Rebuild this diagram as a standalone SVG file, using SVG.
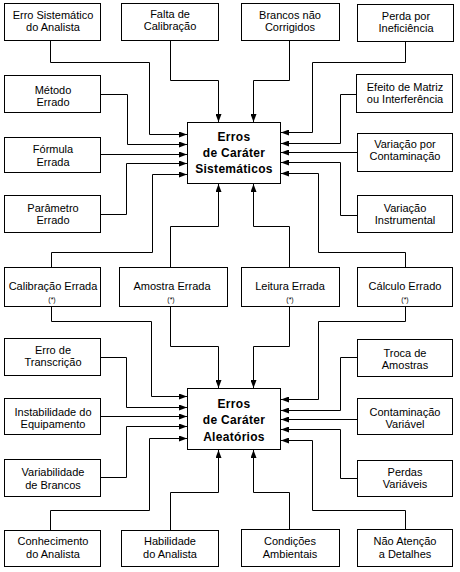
<svg xmlns="http://www.w3.org/2000/svg" width="460" height="572" viewBox="0 0 460 572">
<style>
.bg{fill:#fff}
.box{fill:#fff;stroke:#000;stroke-width:1}
.c{fill:none;stroke:#000;stroke-width:1;marker-end:url(#ah)}
text{font-family:"Liberation Sans",Arial,sans-serif;font-size:11px;fill:#000;text-anchor:middle}
.h{font-weight:bold;font-size:12px;letter-spacing:0.3px}
.s{font-size:7px}
</style>
<defs>
<marker id="ah" markerUnits="userSpaceOnUse" viewBox="0 0 8 6" markerWidth="8" markerHeight="6" refX="8" refY="3" orient="auto">
<path d="M0,0 L8,3 L0,6 z" fill="#000"/>
</marker>
</defs>
<rect class="bg" x="0" y="0" width="460" height="572"/>
<g id="connectors">
<path class="c" d="M50.5,40 V62.5 H149.5 V134.5 H187"/>
<path class="c" d="M170.5,40 V80.5 H218.5 V122"/>
<path class="c" d="M101,94.5 H127.5 V144.5 H187"/>
<path class="c" d="M101,154.5 H187"/>
<path class="c" d="M101,214.5 H126.5 V163.5 H187"/>
<path class="c" d="M51.5,267 V252.5 H152.5 V174.5 H187"/>
<path class="c" d="M170.5,267 V226.5 H218.5 V184"/>
<path class="c" d="M289.5,40 V80.5 H253.5 V122"/>
<path class="c" d="M405.5,42 V62.5 H312.5 V132.5 H281"/>
<path class="c" d="M356,94.5 H340.5 V143.5 H281"/>
<path class="c" d="M357,152.5 H281"/>
<path class="c" d="M357,215.5 H340.5 V162.5 H281"/>
<path class="c" d="M405.5,267 V252.5 H318.5 V173.5 H281"/>
<path class="c" d="M289.5,267 V226.5 H253.5 V184"/>
<path class="c" d="M51.5,307 V321.5 H151.5 V396.5 H187"/>
<path class="c" d="M170.5,307 V346.5 H218.5 V388"/>
<path class="c" d="M101,357.5 H126.5 V407.5 H187"/>
<path class="c" d="M101,416.5 H187"/>
<path class="c" d="M101,477.5 H126.5 V426.5 H187"/>
<path class="c" d="M50.5,530 V510.5 H149.5 V438.5 H187"/>
<path class="c" d="M170.5,530 V492.5 H218.5 V450"/>
<path class="c" d="M289.5,307 V346.5 H253.5 V388"/>
<path class="c" d="M405.5,307 V321.5 H318.5 V399.5 H281"/>
<path class="c" d="M357,357.5 H340.5 V410.5 H281"/>
<path class="c" d="M357,419.5 H281"/>
<path class="c" d="M357,478.5 H340.5 V429.5 H281"/>
<path class="c" d="M405.5,529 V510.5 H312.5 V440.5 H281"/>
<path class="c" d="M289.5,529 V492.5 H253.5 V450"/>
</g>
<g id="sistematicos">
<rect class="box" x="187.5" y="122.5" width="93" height="61"/>
<text class="h" x="234" y="141">Erros</text>
<text class="h" x="234" y="157">de Caráter</text>
<text class="h" x="234" y="173">Sistemáticos</text>
</g>
<g id="aleatorios">
<rect class="box" x="187.5" y="388.5" width="93" height="61"/>
<text class="h" x="234" y="408">Erros</text>
<text class="h" x="234" y="424">de Caráter</text>
<text class="h" x="234" y="441">Aleatórios</text>
</g>
<g id="n1"><rect class="box" x="4.5" y="3.5" width="96" height="37"/><text x="53" y="18.5">Erro Sistemático</text><text x="53" y="30.5">do Analista</text></g>
<g id="n2"><rect class="box" x="121.5" y="3.5" width="97" height="37"/><text x="170" y="18">Falta de</text><text x="170" y="30">Calibração</text></g>
<g id="n3"><rect class="box" x="241.5" y="3.5" width="98" height="37"/><text x="290" y="18.5">Brancos não</text><text x="290" y="30.5">Corrigidos</text></g>
<g id="n4"><rect class="box" x="357.5" y="4.5" width="96" height="37"/><text x="406" y="20">Perda por</text><text x="406" y="32">Ineficiência</text></g>
<g id="n5"><rect class="box" x="4.5" y="75.5" width="96" height="37"/><text x="53" y="93.5">Método</text><text x="53" y="105.5">Errado</text></g>
<g id="n6"><rect class="box" x="356.5" y="74.5" width="96" height="38"/><text x="405" y="91">Efeito de Matriz</text><text x="405" y="103">ou Interferência</text></g>
<g id="n7"><rect class="box" x="4.5" y="137.5" width="96" height="35"/><text x="53" y="153">Fórmula</text><text x="53" y="165.5">Errada</text></g>
<g id="n8"><rect class="box" x="357.5" y="133.5" width="95" height="38"/><text x="405" y="148">Variação por</text><text x="405" y="160">Contaminação</text></g>
<g id="n9"><rect class="box" x="4.5" y="195.5" width="96" height="37"/><text x="53" y="211.5">Parâmetro</text><text x="53" y="223.5">Errado</text></g>
<g id="n10"><rect class="box" x="357.5" y="195.5" width="95" height="37"/><text x="405" y="211.5">Variação</text><text x="405" y="223.5">Instrumental</text></g>
<g id="n11"><rect class="box" x="4.5" y="267.5" width="96" height="39"/><text x="53" y="289.5">Calibração Errada</text><text class="s" x="52" y="301.5">(*)</text></g>
<g id="n12"><rect class="box" x="119.5" y="267.5" width="108" height="39"/><text x="172" y="289.5">Amostra Errada</text><text class="s" x="171" y="301.5">(*)</text></g>
<g id="n13"><rect class="box" x="241.5" y="267.5" width="98" height="39"/><text x="290" y="289.5">Leitura Errada</text><text class="s" x="290" y="301.5">(*)</text></g>
<g id="n14"><rect class="box" x="357.5" y="267.5" width="95" height="39"/><text x="405" y="289.5">Cálculo Errado</text><text class="s" x="405" y="301.5">(*)</text></g>
<g id="n15"><rect class="box" x="4.5" y="338.5" width="96" height="37"/><text x="53" y="353.5">Erro de</text><text x="53" y="365.5">Transcrição</text></g>
<g id="n16"><rect class="box" x="357.5" y="339.5" width="95" height="37"/><text x="405" y="357">Troca de</text><text x="405" y="369">Amostras</text></g>
<g id="n17"><rect class="box" x="4.5" y="398.5" width="96" height="36"/><text x="53" y="416">Instabilidade do</text><text x="53" y="428">Equipamento</text></g>
<g id="n18"><rect class="box" x="357.5" y="398.5" width="95" height="36"/><text x="405" y="416">Contaminação</text><text x="405" y="428">Variável</text></g>
<g id="n19"><rect class="box" x="4.5" y="459.5" width="96" height="37"/><text x="53" y="476">Variabilidade</text><text x="53" y="488.5">de Brancos</text></g>
<g id="n20"><rect class="box" x="357.5" y="460.5" width="95" height="36"/><text x="405" y="476">Perdas</text><text x="405" y="488">Variáveis</text></g>
<g id="n21"><rect class="box" x="4.5" y="530.5" width="96" height="36"/><text x="53" y="545">Conhecimento</text><text x="53" y="557.5">do Analista</text></g>
<g id="n22"><rect class="box" x="121.5" y="530.5" width="97" height="36"/><text x="170" y="545">Habilidade</text><text x="170" y="557.5">do Analista</text></g>
<g id="n23"><rect class="box" x="241.5" y="529.5" width="98" height="37"/><text x="290" y="545">Condições</text><text x="290" y="557.5">Ambientais</text></g>
<g id="n24"><rect class="box" x="357.5" y="529.5" width="95" height="37"/><text x="405" y="545">Não Atenção</text><text x="405" y="557.5">a Detalhes</text></g>
</svg>
